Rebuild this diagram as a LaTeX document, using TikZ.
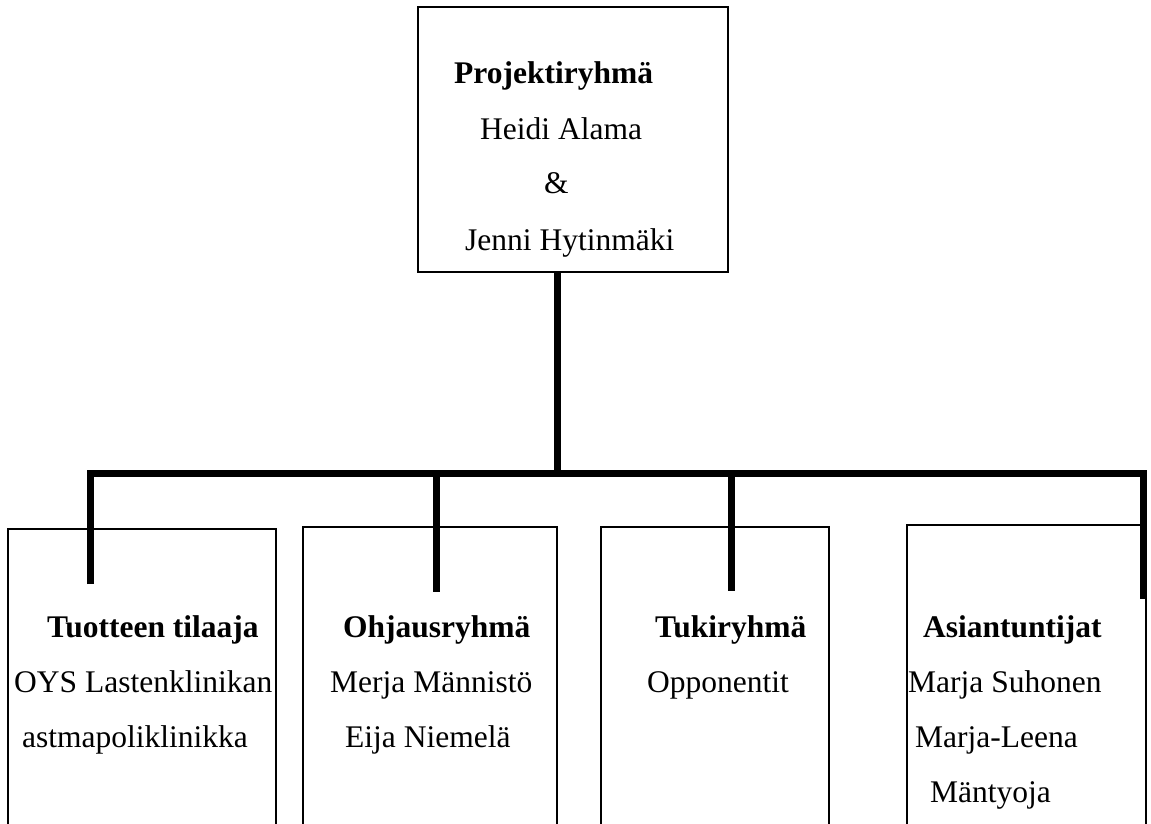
\documentclass[tikz,border=0pt]{standalone}
\usepackage{fontspec}
\setmainfont{Liberation Serif}
\begin{document}
\begin{tikzpicture}[x=1pt,y=-1pt,
  box/.style={draw,line width=1.3pt,inner sep=0pt,outer sep=0pt,anchor=north west},
  conn/.style={line width=7pt},
  lbl/.style={anchor=base west,inner sep=0pt,font=\fontsize{31.5}{36}\selectfont},
  hd/.style={anchor=base west,inner sep=0pt,font=\fontsize{31.5}{36}\selectfont\bfseries}]
\useasboundingbox (0,0) rectangle (1151,823);
\clip (0,0) rectangle (1151,823);
% boxes
\node[box,minimum width=310pt,minimum height=265pt] (top) at (418,7) {};
\node[box,minimum width=268pt,minimum height=380pt] (b1) at (8,529) {};
\node[box,minimum width=254pt,minimum height=380pt] (b2) at (303,527) {};
\node[box,minimum width=228pt,minimum height=380pt] (b3) at (601,527) {};
\node[box,minimum width=239pt,minimum height=380pt] (b4) at (907,525) {};
% texts
\node[hd]  (t0) at (454,83)  {Projektiryhmä};
\node[lbl] (t0a) at (480,139) {Heidi Alama};
\node[lbl] (t0b) at (544,193) {\&};
\node[lbl] (t0c) at (465,250) {Jenni Hytinmäki};
\node[hd]  (t1) at (47,637)  {Tuotteen tilaaja};
\node[lbl] (t1a) at (14,692) {OYS Lastenklinikan};
\node[lbl] (t1b) at (22,747) {astmapoliklinikka};
\node[hd]  (t2) at (343,637) {Ohjausryhmä};
\node[lbl] (t2a) at (330,692) {Merja Männistö};
\node[lbl] (t2b) at (345,747) {Eija Niemelä};
\node[hd]  (t3) at (655,637) {Tukiryhmä};
\node[lbl] (t3a) at (647,692) {Opponentit};
\node[hd]  (t4) at (923,637) {Asiantuntijat};
\node[lbl] (t4a) at (908,692) {Marja Suhonen};
\node[lbl] (t4b) at (915,747) {Marja-Leena};
\node[lbl] (t4c) at (930,802) {Mäntyoja};
% connectors
\coordinate (bus) at (557,473.5);
\coordinate (d1) at (90,584);
\coordinate (d2) at (436,592);
\coordinate (d3) at (731,591);
\coordinate (d4) at (1143.5,599);
\draw[conn] (top.south -| bus) -- (bus);
\draw[conn] (d1) -- (d1 |- bus) -- (d4 |- bus) -- (d4);
\draw[conn] (d2 |- bus) -- (d2);
\draw[conn] (d3 |- bus) -- (d3);
\end{tikzpicture}
\end{document}
